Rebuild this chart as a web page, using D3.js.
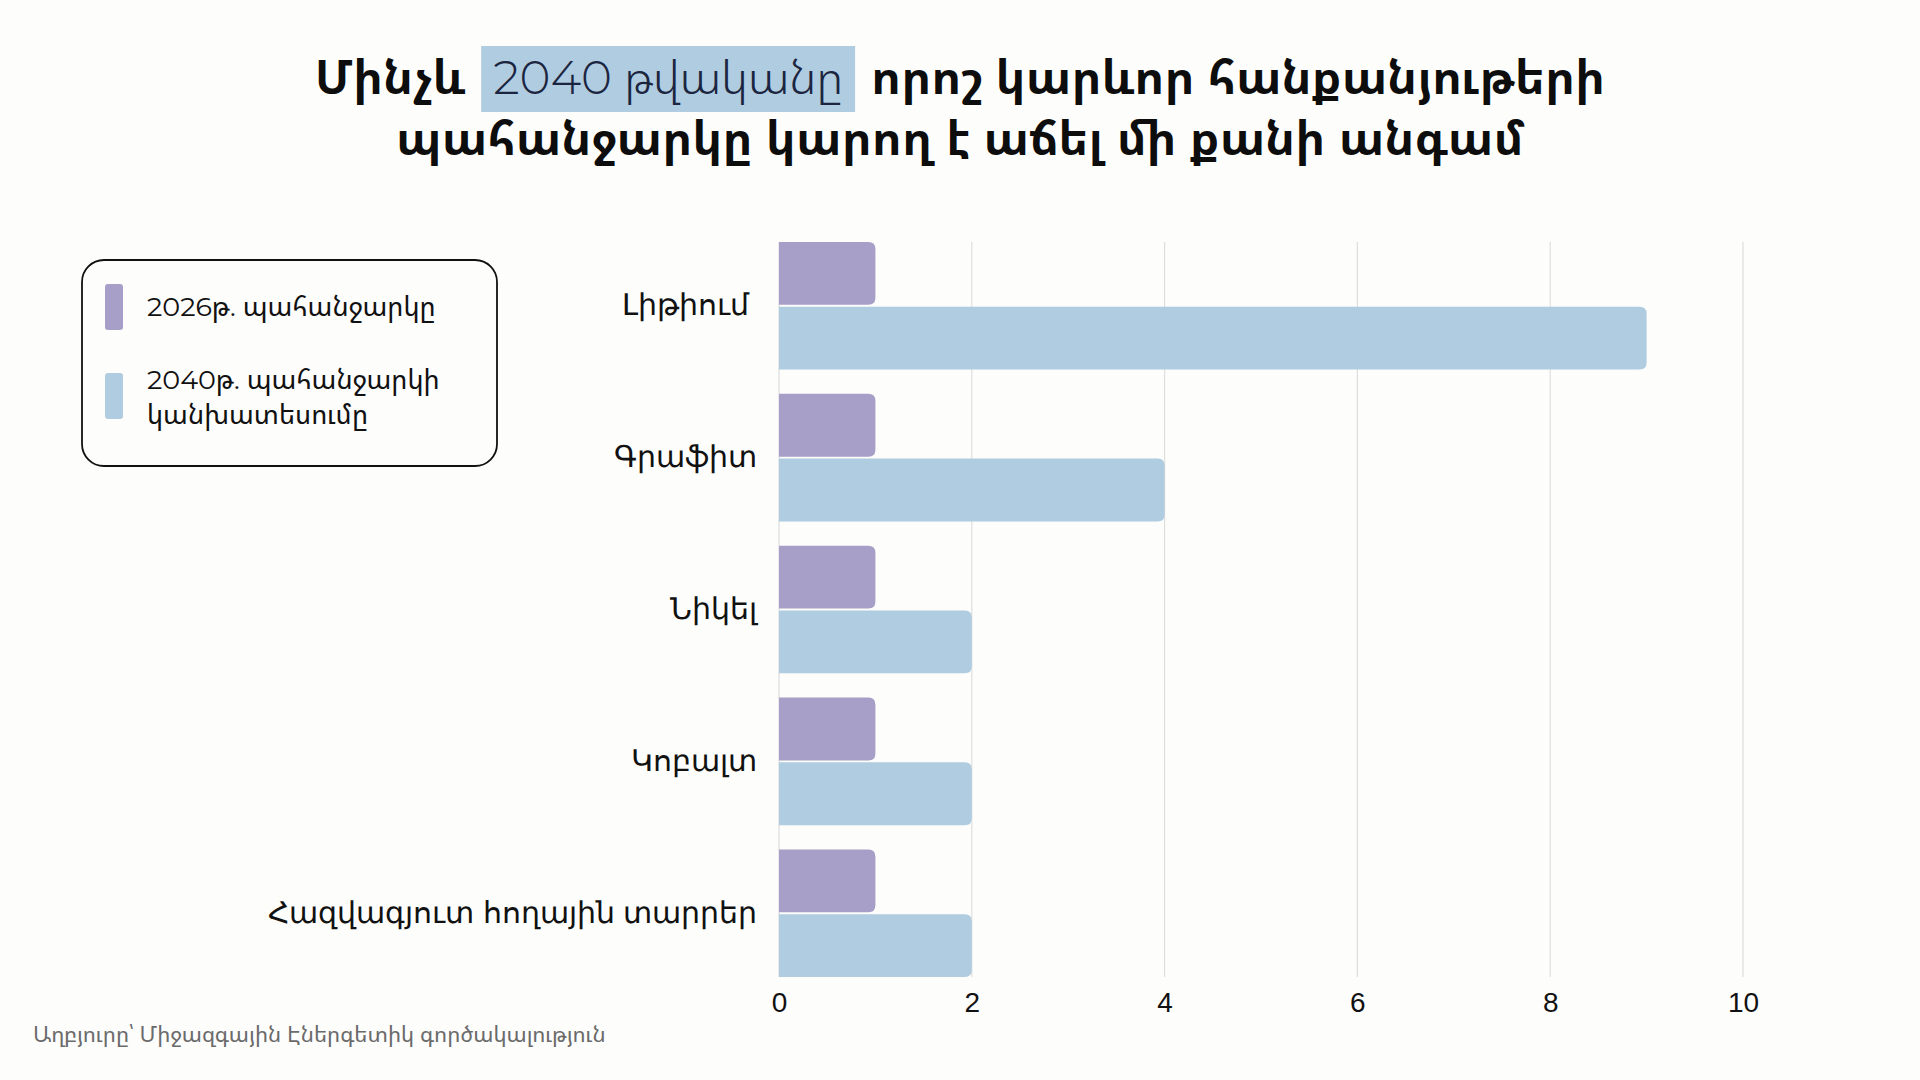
<!DOCTYPE html>
<html>
<head>
<meta charset="utf-8">
<script src="https://cdn.jsdelivr.net/npm/d3@7"></script>
<style>
  html, body { margin: 0; padding: 0; background: #fdfdfc; }
  svg { display: block; font-family: Montserrat, "Noto Sans Armenian", "Noto Sans", "DejaVu Sans", sans-serif; }
</style>
</head>
<body>
<svg id="vis-svg"></svg>
<script>
// chart data
const categories = ["Լիթիում ", "Գրաֆիտ", "Նիկել", "Կոբալտ", "Հազվագյուտ հողային տարրեր"];
const seriesNames = ["2026թ. պահանջարկը", "2040թ. պահանջարկի կանխատեսումը"];
const demand2026 = [1, 1, 1, 1, 1];
const demand2040 = [9, 4, 2, 2, 2];
const xTicks = [0, 2, 4, 6, 8, 10];
const titleParts = ["Մինչև", "2040 թվականը", "որոշ կարևոր հանքանյութերի"];
const titleLine2 = "պահանջարկը կարող է աճել մի քանի անգամ";
const sourceText = "Աղբյուրը՝ Միջազգային Էներգետիկ գործակալություն";

const W = 1920, H = 1080;
const margin = {top: 242, right: 177, bottom: 103, left: 779};
const width = W - margin.left - margin.right,
      height = H - margin.top - margin.bottom;

const colors = ["#a79fc7", "#afcce0"];

const svg = d3.select("#vis-svg")
    .attr("width", W)
    .attr("height", H);

svg.append("rect").attr("width", W).attr("height", H).attr("fill", "#fdfdfc");

// Title, line 1 with highlighted part
const title = svg.append("g");
const tSize = 47;
const pieces = titleParts.map((t, i) => title.append("text")
    .attr("y", 94)
    .style("font-size", tSize + "px")
    .style("font-weight", i === 1 ? 300 : 700)
    .attr("fill", i === 1 ? "#1c2540" : "#0d0d0d")
    .text(t));
const widths = pieces.map(p => p.node().getComputedTextLength());
const gap = 16, pad = 12;
const total = widths[0] + gap + pad + widths[1] + pad + gap + widths[2];
let cx = W / 2 - total / 2;
pieces[0].attr("x", cx);
cx += widths[0] + gap;
title.append("rect")
    .attr("x", cx).attr("y", 46)
    .attr("width", widths[1] + pad * 2).attr("height", 66)
    .attr("fill", "#afcce0")
    .lower();
pieces[1].attr("x", cx + pad);
cx += pad + widths[1] + pad + gap;
pieces[2].attr("x", cx);

svg.append("text")
    .attr("x", W / 2).attr("y", 155)
    .attr("text-anchor", "middle")
    .style("font-size", tSize + "px")
    .style("font-weight", 700)
    .attr("fill", "#0d0d0d")
    .text(titleLine2);

const g = svg.append("g")
    .attr("transform", "translate(" + margin.left + "," + margin.top + ")");

// scales
const x = d3.scaleLinear().domain([0, 10]).range([0, width]);
const y = d3.scaleBand().domain(categories).range([0, height]).paddingInner(0.16).paddingOuter(0);
const ySub = d3.scaleBand().domain([0, 1]).range([0, y.bandwidth()]).paddingInner(0.03);

// grid
g.append("g")
    .selectAll("line")
    .data(xTicks)
    .join("line")
    .attr("x1", d => x(d)).attr("x2", d => x(d))
    .attr("y1", 0).attr("y2", height)
    .attr("stroke", "#dedede")
    .attr("stroke-width", 1.2);

// x axis
const xAxis = g.append("g")
    .attr("transform", "translate(0," + height + ")")
    .call(d3.axisBottom(x).tickValues(xTicks).tickSize(0).tickPadding(15));
xAxis.select(".domain").remove();
xAxis.selectAll("text")
    .style("font-size", "28px")
    .style("font-family", "inherit")
    .attr("fill", "#111");

// y axis labels
const yAxis = g.append("g")
    .call(d3.axisLeft(y).tickSize(0).tickPadding(22));
yAxis.select(".domain").remove();
yAxis.selectAll("text")
    .style("font-size", "30px")
    .style("font-family", "inherit")
    .style("white-space", "pre")
    .attr("fill", "#111");

// bars with rounded right end
function barPath(x0, x1, y0, h, r) {
    r = Math.min(r, (x1 - x0), h / 2);
    return "M" + x0 + "," + y0 +
        "H" + (x1 - r) +
        "Q" + x1 + "," + y0 + " " + x1 + "," + (y0 + r) +
        "V" + (y0 + h - r) +
        "Q" + x1 + "," + (y0 + h) + " " + (x1 - r) + "," + (y0 + h) +
        "H" + x0 + "Z";
}

const series = [demand2026, demand2040];
series.forEach((vals, si) => {
    g.append("g")
        .selectAll("path")
        .data(categories.map((c, i) => ({c: c, v: vals[i]})))
        .join("path")
        .attr("d", d => barPath(x(0), x(d.v), y(d.c) + ySub(si), ySub.bandwidth(), 7))
        .attr("fill", colors[si]);
});

// legend
const legend = svg.append("g");
legend.append("rect")
    .attr("x", 82).attr("y", 260)
    .attr("width", 415).attr("height", 206)
    .attr("rx", 22)
    .attr("fill", "#fdfdfc")
    .attr("stroke", "#111")
    .attr("stroke-width", 1.8);
const legendItems = [
    {lines: [seriesNames[0]], y: 284, color: colors[0]},
    {lines: ["2040թ. պահանջարկի", "կանխատեսումը"], y: 373, color: colors[1]}
];
legendItems.forEach(it => {
    legend.append("rect")
        .attr("x", 105).attr("y", it.y)
        .attr("width", 18).attr("height", 46)
        .attr("rx", 3)
        .attr("fill", it.color);
    const t = legend.append("text")
        .attr("x", 147)
        .attr("y", it.y + (it.lines.length > 1 ? 16 : 32))
        .style("font-size", "27px")
        .attr("fill", "#111");
    it.lines.forEach((l, i) => t.append("tspan").attr("x", 147).attr("dy", i ? 35 : 0).text(l));
});

// source
svg.append("text")
    .attr("x", 33).attr("y", 1042)
    .style("font-size", "22px")
    .attr("fill", "#6b6b6b")
    .text(sourceText);
</script>
</body>
</html>
